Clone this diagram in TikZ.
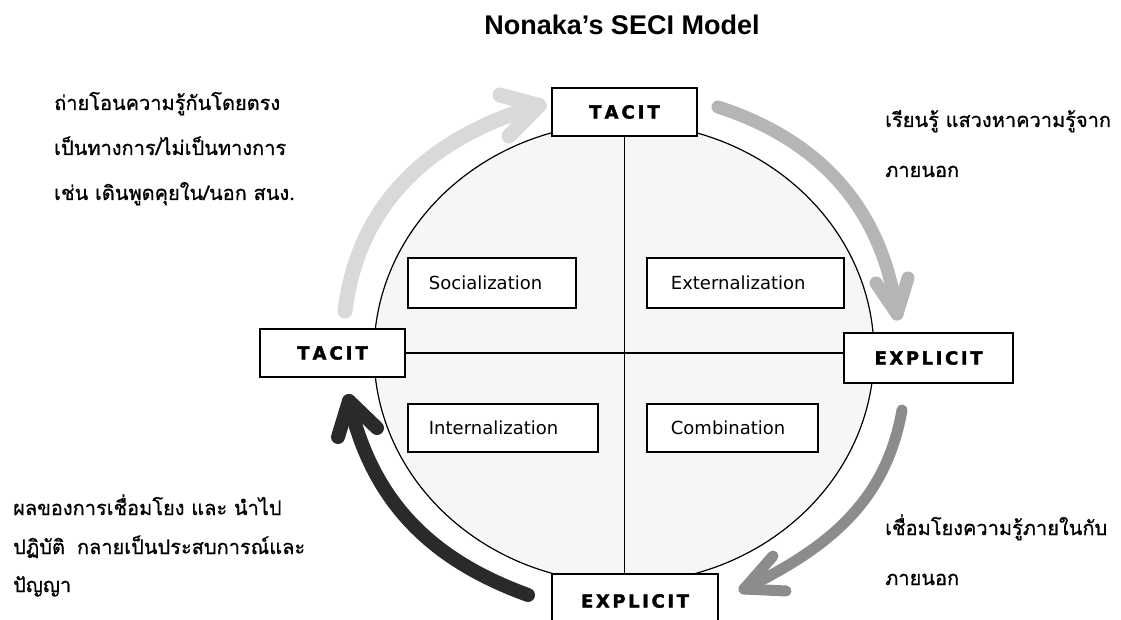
\documentclass[tikz,border=0pt]{standalone}
\usepackage{fontspec}
\setmainfont{DejaVu Sans}
\newfontfamily\thaifont[Script=Thai, FakeBold=0.8]{Loma}
\newfontfamily\titlefont{Liberation Sans}
\newfontfamily\boxfont{DejaVu Sans}
\newfontfamily\heavyfont[FakeBold=2]{DejaVu Sans Bold}
\definecolor{arrA}{HTML}{D9D9D9}
\definecolor{arrB}{HTML}{B5B5B5}
\definecolor{arrC}{HTML}{8C8C8C}
\definecolor{arrD}{HTML}{2A2A2A}
\definecolor{discfill}{HTML}{F6F6F6}
\tikzset{
  bigbox/.style={draw=black, line width=2pt, fill=white, inner sep=0pt,
    font=\heavyfont\fontsize{18}{18}\selectfont},
  phase/.style={draw=black, line width=1.8pt, fill=white, inner ysep=0pt,
    align=left, anchor=north west, font=\boxfont\fontsize{18}{18}\selectfont},
  thai/.style={anchor=base west, inner sep=0pt, font=\thaifont\fontsize{20}{20}\selectfont},
  cyc/.style={line width=#1, line cap=round, line join=round},
  divider/.style={line width=1.3pt, draw=black},
}
\begin{document}
\begin{tikzpicture}[x=1pt,y=1pt]
\fill[white] (0,0) rectangle (1121,-620);
\useasboundingbox (0,0) rectangle (1121,-620);

% title
\node[anchor=base, inner sep=0pt, font=\titlefont\bfseries\fontsize{27}{27}\selectfont] (title) at (622,-35) {Nonaka’s SECI Model};

% disc
\draw[line width=1.2pt, fill=discfill] (624,-353) ellipse [x radius=250, y radius=230];

% corner boxes
\node[bigbox, minimum width=145pt, minimum height=48pt] (top) at (624.5,-112) {T\kern3pt A\kern3pt C\kern3pt I\kern3pt T};
\node[bigbox, minimum width=145pt, minimum height=48pt] (left) at (332.5,-353) {T\kern3pt A\kern3pt C\kern3pt I\kern3pt T};
\node[bigbox, minimum width=169pt, minimum height=50pt] (right) at (928.5,-358) {E\kern2.6pt X\kern2.6pt P\kern2.6pt L\kern2.6pt I\kern2.6pt C\kern2.6pt I\kern2.6pt T};
\node[bigbox, minimum width=166pt, minimum height=54pt] (bottom) at (635,-601) {E\kern2.6pt X\kern2.6pt P\kern2.6pt L\kern2.6pt I\kern2.6pt C\kern2.6pt I\kern2.6pt T};

% dividers
\draw[divider] (top.south) -- (top.south |- bottom.north);
\draw[divider] (left.east) -- (left.east -| right.west);

% phase boxes
\node[phase, inner xsep=21pt, text width=126pt, minimum height=50pt] (soc) at (407,-257) {Socialization};
\node[phase, inner xsep=24pt, text width=149pt, minimum height=50pt] (ext) at (646,-257) {Externalization};
\node[phase, inner xsep=21pt, text width=148pt, minimum height=48pt] (int) at (407,-403) {Internalization};
\node[phase, inner xsep=24pt, text width=123pt, minimum height=48pt] (com) at (646,-403) {Combination};

% cycle arrows
\coordinate (a1s) at (345,-311);
\coordinate (a1t) at (539,-105.5);
\coordinate (a1p) at (500,-95);
\coordinate (a1q) at (509,-136);
\draw[cyc=15pt, draw=arrA] (a1s) to[out=83, in=196] (a1t);
\draw[cyc=15pt, draw=arrA] (a1p) -- (a1t) -- (a1q);

\coordinate (a2s) at (718,-107);
\coordinate (a2t) at (897,-314);
\coordinate (a2p) at (876,-283);
\coordinate (a2q) at (908,-278);
\draw[cyc=13pt, draw=arrB] (a2s) to[out=-18, in=98] (a2t);
\draw[cyc=13pt, draw=arrB] (a2p) -- (a2t) -- (a2q);

\coordinate (a3s) at (902,-410);
\coordinate (a3t) at (744,-589);
\coordinate (a3p) at (773,-556);
\coordinate (a3q) at (786,-591);
\draw[cyc=11pt, draw=arrC] (a3s) to[out=-100, in=26] (a3t);
\draw[cyc=11pt, draw=arrC] (a3p) -- (a3t) -- (a3q);

\coordinate (a4s) at (528,-595);
\coordinate (a4t) at (349,-401);
\coordinate (a4p) at (338,-437);
\coordinate (a4q) at (377,-428);
\draw[cyc=14pt, draw=arrD] (a4s) to[out=160, in=-77] (a4t);
\draw[cyc=14pt, draw=arrD] (a4p) -- (a4t) -- (a4q);

% Thai notes
\node[thai] (tl1) at (54,-110) {ถ่ายโอนความรู้กันโดยตรง};
\node[thai] (tl2) at (54,-155) {เป็นทางการ/ไม่เป็นทางการ};
\node[thai] (tl3) at (54,-200) {เช่น เดินพูดคุยใน/นอก สนง.};

\node[thai] (tr1) at (885,-127) {เรียนรู้ แสวงหาความรู้จาก};
\node[thai] (tr2) at (885,-177) {ภายนอก};

\node[thai] (bl1) at (13,-515) {ผลของการเชื่อมโยง และ นำไป};
\node[thai] (bl2) at (13,-554) {ปฏิบัติ\hspace{0.6em}กลายเป็นประสบการณ์และ};
\node[thai] (bl3) at (13,-592) {ปัญญา};

\node[thai] (br1) at (885,-535) {เชื่อมโยงความรู้ภายในกับ};
\node[thai] (br2) at (885,-585) {ภายนอก};
\end{tikzpicture}
\end{document}
